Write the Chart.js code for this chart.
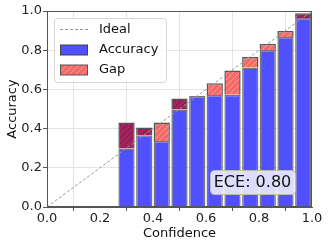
<!DOCTYPE html>
<html>
<head>
<meta charset="utf-8">
<script src="https://cdn.jsdelivr.net/npm/chart.js@4"></script>
<style>
  html, body { margin: 0; padding: 0; background: #fff; }
  #wrap { width: 329px; height: 247px; }
</style>
</head>
<body>
<div id="wrap"><canvas id="myChart" width="329" height="247"></canvas></div>
<script>
// bin centres (15 bins, only the filled ones)
const binCenters = [0.3, 0.367, 0.433, 0.5, 0.567, 0.633, 0.7, 0.767, 0.833, 0.9, 0.967];
const accuracy = [0.298, 0.366, 0.337, 0.498, 0.566, 0.571, 0.573, 0.712, 0.801, 0.867, 0.964];
const gapTop = [0.431, 0.406, 0.431, 0.554, 0.566, 0.631, 0.697, 0.765, 0.833, 0.898, 0.988];
// which side the gap falls on: "a" = dark, "b" = light
const gapSide = ["a", "a", "b", "a", "b", "b", "b", "b", "b", "b", "a"];
const ideal = [0, 1];
const tickValues = [0, 0.2, 0.4, 0.6, 0.8, 1.0];
const eceText = "ECE: 0.80";

const FONT = "DejaVu Sans";

function hatch(base, line) {
  var c = document.createElement("canvas");
  c.width = 6;
  c.height = 6;
  var g = c.getContext("2d");
  g.fillStyle = base;
  g.fillRect(0, 0, 6, 6);
  g.strokeStyle = line;
  g.lineWidth = 1;
  g.beginPath();
  g.moveTo(0, 6); g.lineTo(6, 0);
  g.moveTo(-3, 3); g.lineTo(3, -3);
  g.moveTo(3, 9); g.lineTo(9, 3);
  g.stroke();
  return g.createPattern(c, "repeat");
}

var ctx0 = document.getElementById("myChart").getContext("2d");
var darkGap = hatch("#a3235c", "#7d1848");
var lightGap = hatch("#f26a6a", "#ff9a8a");
var blue = "#5050ff";

var accData = binCenters.map((x, i) => ({ x: x, y: accuracy[i] }));
var gapData = binCenters.map((x, i) => ({ x: x, y: [accuracy[i], gapTop[i]] }));
var gapFill = gapSide.map((s) => (s == "a" ? darkGap : lightGap));

function roundRect(ctx, x, y, w, h, r) {
  ctx.beginPath();
  ctx.moveTo(x + r, y);
  ctx.lineTo(x + w - r, y);
  ctx.quadraticCurveTo(x + w, y, x + w, y + r);
  ctx.lineTo(x + w, y + h - r);
  ctx.quadraticCurveTo(x + w, y + h, x + w - r, y + h);
  ctx.lineTo(x + r, y + h);
  ctx.quadraticCurveTo(x, y + h, x, y + h - r);
  ctx.lineTo(x, y + r);
  ctx.quadraticCurveTo(x, y, x + r, y);
  ctx.closePath();
}

var extras = {
  id: "extras",
  afterDraw(chart) {
    var ctx = chart.ctx;
    var a = chart.chartArea;
    ctx.save();
    // top / right spines
    ctx.strokeStyle = "#555";
    ctx.lineWidth = 1;
    ctx.strokeRect(a.left + 0.5, a.top + 0.5, a.right - a.left - 1, a.bottom - a.top - 1);

    // legend
    roundRect(ctx, 54.5, 18.5, 112, 64, 3);
    ctx.fillStyle = "rgba(255,255,255,0.85)";
    ctx.fill();
    ctx.strokeStyle = "#d6d6d6";
    ctx.stroke();

    ctx.strokeStyle = "#999";
    ctx.setLineDash([3, 2]);
    ctx.beginPath();
    ctx.moveTo(60, 29.5);
    ctx.lineTo(88, 29.5);
    ctx.stroke();
    ctx.setLineDash([]);

    ctx.fillStyle = blue;
    ctx.fillRect(60.5, 45, 27, 10);
    ctx.strokeStyle = "#444";
    ctx.strokeRect(60.5, 45, 27, 10);

    ctx.fillStyle = lightGap;
    ctx.fillRect(60.5, 65, 27, 10);
    ctx.strokeStyle = "#555";
    ctx.strokeRect(60.5, 65, 27, 10);

    ctx.fillStyle = "#111";
    ctx.font = "13px '" + FONT + "'";
    ctx.textBaseline = "middle";
    ctx.textAlign = "left";
    ctx.fillText("Ideal", 99, 29.5);
    ctx.fillText("Accuracy", 99, 50);
    ctx.fillText("Gap", 99, 70);

    // ECE box
    roundRect(ctx, 210.5, 170.5, 85, 24, 4);
    ctx.fillStyle = "rgba(232,232,252,0.92)";
    ctx.fill();
    ctx.strokeStyle = "#bbb";
    ctx.stroke();
    ctx.fillStyle = "#111";
    ctx.font = "16px '" + FONT + "'";
    ctx.textAlign = "center";
    ctx.fillText(eceText, 252.5, 182.5);
    ctx.restore();
  },
};

new Chart("myChart", {
  data: {
    datasets: [
      {
        type: "line",
        data: ideal.map((v) => ({ x: v, y: v })),
        borderColor: "#999",
        borderWidth: 1,
        borderDash: [3, 2],
        pointRadius: 0,
        order: 0,
      },
      {
        type: "bar",
        label: "Gap",
        data: gapData,
        backgroundColor: gapFill,
        borderColor: "#555",
        borderWidth: 1.5,
        grouped: false,
        barPercentage: 0.93,
        categoryPercentage: 1,
        order: 1,
      },
      {
        type: "bar",
        label: "Accuracy",
        data: accData,
        backgroundColor: blue,
        borderColor: "#777",
        borderWidth: 1.5,
        grouped: false,
        barPercentage: 0.93,
        categoryPercentage: 1,
        order: 2,
      },
    ],
  },
  options: {
    responsive: false,
    animation: false,
    layout: { padding: { top: 11, right: 17, left: 0, bottom: 0 } },
    plugins: { legend: { display: false }, tooltip: { enabled: false } },
    scales: {
      x: {
        type: "linear",
        min: 0,
        max: 1,
        offset: false,
        afterBuildTicks: (s) => { s.ticks = tickValues.map((v) => ({ value: v })); },
        afterFit: (s) => { s.height = 40; },
        ticks: {
          color: "#222",
          font: { family: FONT, size: 13 },
          padding: 0,
          maxRotation: 0,
          callback: (v) => v.toFixed(1),
        },
        grid: {
          color: "#e4e4e4",
          borderDash: [2, 2],
          tickLength: 4,
          tickColor: "#555",
          tickBorderDash: [],
        },
        border: { color: "#555", width: 1 },
        title: {
          display: true,
          text: "Confidence",
          color: "#111",
          font: { family: FONT, size: 13 },
          padding: { top: 0, bottom: 6 },
        },
      },
      y: {
        min: 0,
        max: 1,
        afterBuildTicks: (s) => { s.ticks = tickValues.map((v) => ({ value: v })); },
        afterFit: (s) => { s.width = 47; },
        ticks: {
          color: "#222",
          font: { family: FONT, size: 13 },
          padding: 1,
          callback: (v) => v.toFixed(1),
        },
        grid: {
          color: "#e4e4e4",
          borderDash: [2, 2],
          tickLength: 4,
          tickColor: "#555",
          tickBorderDash: [],
        },
        border: { color: "#555", width: 1 },
        title: {
          display: true,
          text: "Accuracy",
          color: "#111",
          font: { family: FONT, size: 13 },
          padding: { top: 5, bottom: 0 },
        },
      },
    },
  },
  plugins: [extras],
});
</script>
</body>
</html>
